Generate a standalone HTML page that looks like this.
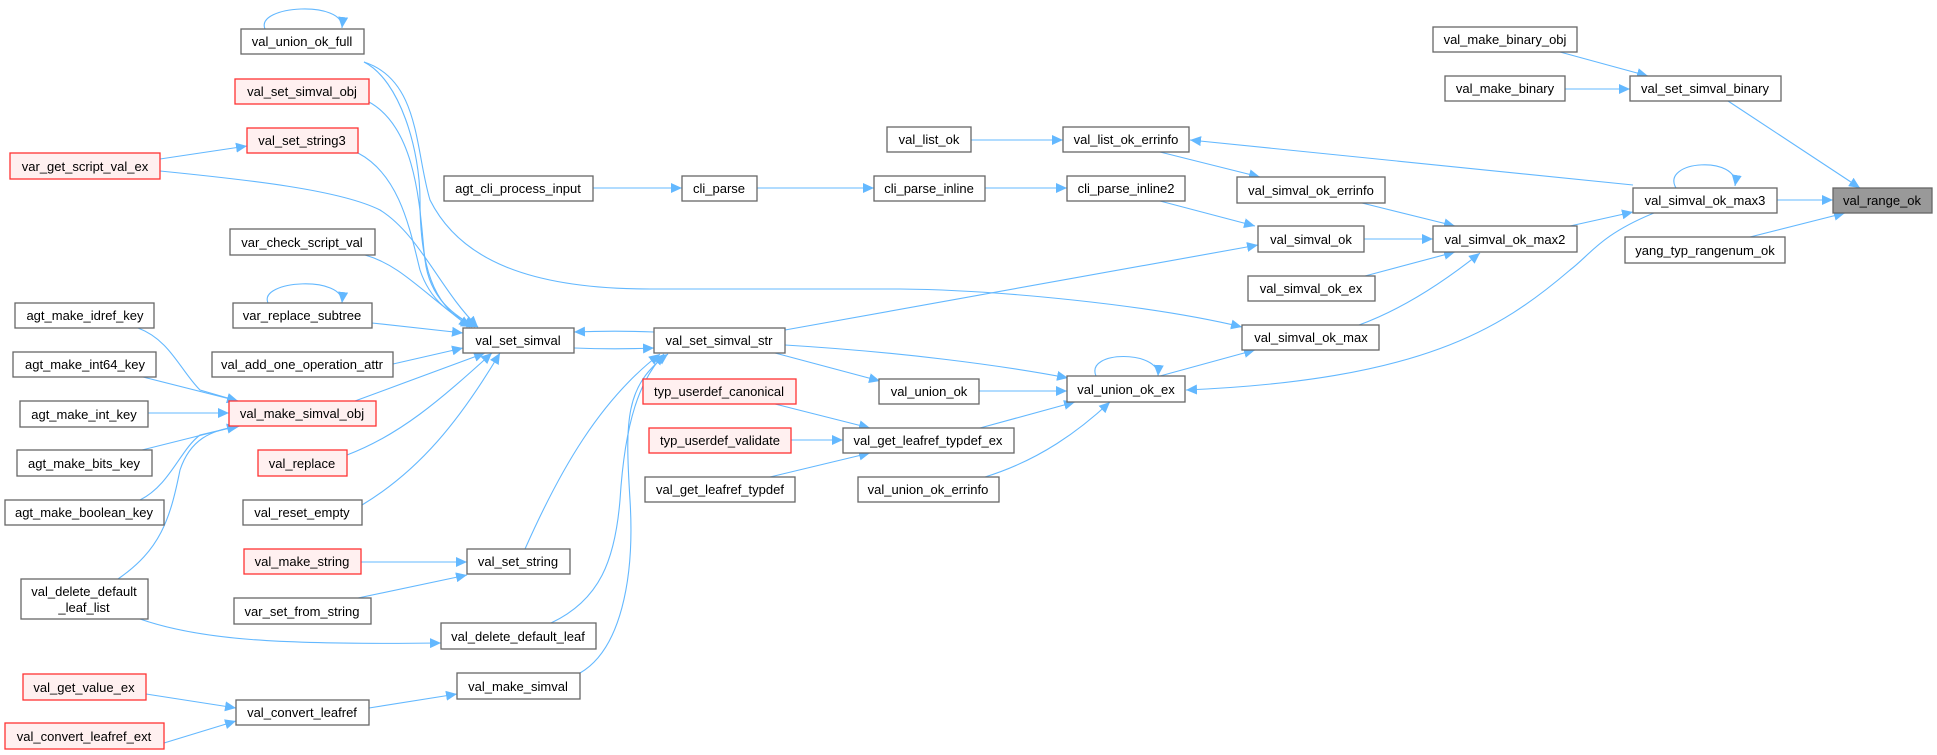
<!DOCTYPE html>
<html><head><meta charset="utf-8"><style>
html,body{margin:0;padding:0;background:#fff;}
svg{display:block;}
text{font-family:"Liberation Sans",Arial,sans-serif;font-size:13px;fill:#000;}
.e{fill:none;stroke:#63b8ff;stroke-width:1.1;}
.n{fill:#fff;stroke:#666;stroke-width:1.3;}
.r{fill:#fff0f0;stroke:#ff3333;stroke-width:1.3;}
</style></head><body>
<svg width="1937" height="755" viewBox="0 0 1937 755" xmlns="http://www.w3.org/2000/svg">
<defs><marker id="a" markerUnits="userSpaceOnUse" markerWidth="12" markerHeight="10" refX="11" refY="5" orient="auto"><path d="M0,0 L11,5 L0,10 z" fill="#63b8ff"/></marker></defs>
<g marker-end="url(#a)">
<path class="e" d="M1560,52 L1648,76"/>
<path class="e" d="M1565,89 L1630,89"/>
<path class="e" d="M1728,101 L1860,188"/>
<path class="e" d="M1777,200 L1833,200"/>
<path class="e" d="M1750,237 L1845,213"/>
<path class="e" d="M1676,188 C1660,160 1740,155 1735,186"/>
<path class="e" d="M1633,185 L1190,140"/>
<path class="e" d="M1654,213 C1600,235 1590,255 1570,270 C1500,330 1420,380 1186,390"/>
<path class="e" d="M1570,226 L1633,212"/>
<path class="e" d="M1160,152 L1260,177"/>
<path class="e" d="M1362,203 L1455,226"/>
<path class="e" d="M1160,201 L1255,226"/>
<path class="e" d="M1364,239 L1433,239"/>
<path class="e" d="M1365,276 L1455,252"/>
<path class="e" d="M1359,325 C1400,310 1440,285 1480,253"/>
<path class="e" d="M785,330 L1258,245"/>
<path class="e" d="M364,62 C420,80 415,150 430,200 C460,260 530,289 650,289 L900,289 C1000,290 1150,305 1242,327"/>
<path class="e" d="M1160,376 L1255,350"/>
<path class="e" d="M1096,376 C1085,350 1160,350 1158,376"/>
<path class="e" d="M971,140 L1063,140"/>
<path class="e" d="M593,188 L682,188"/>
<path class="e" d="M757,188 L874,188"/>
<path class="e" d="M985,188 L1067,188"/>
<path class="e" d="M785,345 C900,352 1000,365 1068,378"/>
<path class="e" d="M775,353 L880,381"/>
<path class="e" d="M979,391 L1067,391"/>
<path class="e" d="M980,428 L1075,402"/>
<path class="e" d="M985,477 C1040,460 1080,430 1110,402"/>
<path class="e" d="M775,404 L870,428"/>
<path class="e" d="M791,440 L843,440"/>
<path class="e" d="M770,477 L870,453"/>
<path class="e" d="M654,332 C630,331 600,331 574,332"/>
<path class="e" d="M574,348 C600,349 630,349 654,348"/>
<path class="e" d="M525,549 C560,470 600,400 660,354"/>
<path class="e" d="M551,623 C600,600 615,560 620,500 C625,420 640,380 664,354"/>
<path class="e" d="M580,673 C620,650 635,580 630,500 C625,420 625,385 668,354"/>
<path class="e" d="M265,29 C255,5 345,0 342,28"/>
<path class="e" d="M364,62 C400,80 420,150 420,200 C420,280 440,310 472,327"/>
<path class="e" d="M369,102 C420,130 420,220 425,260 C430,300 455,315 475,327"/>
<path class="e" d="M358,153 C400,175 410,230 420,270 C430,300 450,315 478,327"/>
<path class="e" d="M160,159 L247,146"/>
<path class="e" d="M160,171 C250,180 340,190 380,210 C420,235 440,290 478,327"/>
<path class="e" d="M365,255 C400,265 420,290 470,327"/>
<path class="e" d="M372,323 L463,333"/>
<path class="e" d="M268,303 C258,280 345,275 342,303"/>
<path class="e" d="M393,364 L463,348"/>
<path class="e" d="M355,401 L485,353"/>
<path class="e" d="M347,455 C400,435 440,400 492,353"/>
<path class="e" d="M362,505 C420,470 460,420 500,353"/>
<path class="e" d="M138,328 C170,340 180,370 200,390 L238,401"/>
<path class="e" d="M143,377 L238,401"/>
<path class="e" d="M148,413 L229,413"/>
<path class="e" d="M142,450 L238,426"/>
<path class="e" d="M140,500 C170,485 180,450 200,435 L238,426"/>
<path class="e" d="M118,579 C160,550 170,520 180,470 C190,440 210,430 240,426"/>
<path class="e" d="M140,619 C200,640 280,645 441,643"/>
<path class="e" d="M361,562 L467,562"/>
<path class="e" d="M358,598 L467,575"/>
<path class="e" d="M146,694 L236,708"/>
<path class="e" d="M164,743 L236,721"/>
<path class="e" d="M369,708 L457,694"/>
</g>
<g>
<rect class="n" x="1433" y="27" width="144" height="25"/><text x="1505" y="44" text-anchor="middle">val_make_binary_obj</text>
<rect class="n" x="1445" y="76" width="120" height="25"/><text x="1505" y="93" text-anchor="middle">val_make_binary</text>
<rect class="n" x="1630" y="76" width="151" height="25"/><text x="1705" y="93" text-anchor="middle">val_set_simval_binary</text>
<rect class="n" x="1633" y="188" width="144" height="25"/><text x="1705" y="205" text-anchor="middle">val_simval_ok_max3</text>
<rect x="1833" y="188" width="99" height="25" fill="#999" stroke="#666" stroke-width="1.3"/><text x="1882" y="205" text-anchor="middle">val_range_ok</text>
<rect class="n" x="1625" y="237" width="160" height="26"/><text x="1705" y="255" text-anchor="middle">yang_typ_rangenum_ok</text>
<rect class="n" x="1237" y="177" width="148" height="26"/><text x="1311" y="195" text-anchor="middle">val_simval_ok_errinfo</text>
<rect class="n" x="1258" y="226" width="106" height="26"/><text x="1311" y="244" text-anchor="middle">val_simval_ok</text>
<rect class="n" x="1433" y="226" width="144" height="26"/><text x="1505" y="244" text-anchor="middle">val_simval_ok_max2</text>
<rect class="n" x="1248" y="276" width="127" height="25"/><text x="1311" y="293" text-anchor="middle">val_simval_ok_ex</text>
<rect class="n" x="1242" y="325" width="137" height="25"/><text x="1311" y="342" text-anchor="middle">val_simval_ok_max</text>
<rect class="n" x="887" y="127" width="84" height="25"/><text x="929" y="144" text-anchor="middle">val_list_ok</text>
<rect class="n" x="1063" y="127" width="126" height="25"/><text x="1126" y="144" text-anchor="middle">val_list_ok_errinfo</text>
<rect class="n" x="682" y="176" width="75" height="25"/><text x="719" y="193" text-anchor="middle">cli_parse</text>
<rect class="n" x="874" y="176" width="111" height="25"/><text x="929" y="193" text-anchor="middle">cli_parse_inline</text>
<rect class="n" x="1067" y="176" width="118" height="25"/><text x="1126" y="193" text-anchor="middle">cli_parse_inline2</text>
<rect class="n" x="654" y="328" width="131" height="25"/><text x="719" y="345" text-anchor="middle">val_set_simval_str</text>
<rect class="r" x="643" y="379" width="153" height="25"/><text x="719" y="396" text-anchor="middle">typ_userdef_canonical</text>
<rect class="n" x="879" y="379" width="100" height="25"/><text x="929" y="396" text-anchor="middle">val_union_ok</text>
<rect class="n" x="1067" y="376" width="118" height="26"/><text x="1126" y="394" text-anchor="middle">val_union_ok_ex</text>
<rect class="r" x="649" y="428" width="142" height="25"/><text x="720" y="445" text-anchor="middle">typ_userdef_validate</text>
<rect class="n" x="843" y="428" width="171" height="25"/><text x="928" y="445" text-anchor="middle">val_get_leafref_typdef_ex</text>
<rect class="n" x="645" y="477" width="150" height="25"/><text x="720" y="494" text-anchor="middle">val_get_leafref_typdef</text>
<rect class="n" x="858" y="477" width="141" height="25"/><text x="928" y="494" text-anchor="middle">val_union_ok_errinfo</text>
<rect class="n" x="241" y="29" width="123" height="25"/><text x="302" y="46" text-anchor="middle">val_union_ok_full</text>
<rect class="r" x="235" y="79" width="134" height="25"/><text x="302" y="96" text-anchor="middle">val_set_simval_obj</text>
<rect class="r" x="247" y="128" width="111" height="25"/><text x="302" y="145" text-anchor="middle">val_set_string3</text>
<rect class="r" x="10" y="153" width="150" height="26"/><text x="85" y="171" text-anchor="middle">var_get_script_val_ex</text>
<rect class="n" x="444" y="176" width="149" height="25"/><text x="518" y="193" text-anchor="middle">agt_cli_process_input</text>
<rect class="n" x="230" y="229" width="145" height="26"/><text x="302" y="247" text-anchor="middle">var_check_script_val</text>
<rect class="n" x="233" y="303" width="139" height="25"/><text x="302" y="320" text-anchor="middle">var_replace_subtree</text>
<rect class="n" x="15" y="303" width="139" height="25"/><text x="85" y="320" text-anchor="middle">agt_make_idref_key</text>
<rect class="n" x="463" y="328" width="111" height="25"/><text x="518" y="345" text-anchor="middle">val_set_simval</text>
<rect class="n" x="13" y="352" width="143" height="25"/><text x="85" y="369" text-anchor="middle">agt_make_int64_key</text>
<rect class="n" x="212" y="352" width="181" height="25"/><text x="302" y="369" text-anchor="middle">val_add_one_operation_attr</text>
<rect class="r" x="229" y="401" width="147" height="25"/><text x="302" y="418" text-anchor="middle">val_make_simval_obj</text>
<rect class="n" x="20" y="401" width="128" height="26"/><text x="84" y="419" text-anchor="middle">agt_make_int_key</text>
<rect class="n" x="17" y="450" width="135" height="26"/><text x="84" y="468" text-anchor="middle">agt_make_bits_key</text>
<rect class="r" x="258" y="450" width="89" height="26"/><text x="302" y="468" text-anchor="middle">val_replace</text>
<rect class="n" x="5" y="500" width="159" height="25"/><text x="84" y="517" text-anchor="middle">agt_make_boolean_key</text>
<rect class="n" x="243" y="500" width="119" height="25"/><text x="302" y="517" text-anchor="middle">val_reset_empty</text>
<rect class="r" x="244" y="549" width="117" height="25"/><text x="302" y="566" text-anchor="middle">val_make_string</text>
<rect class="n" x="467" y="549" width="103" height="25"/><text x="518" y="566" text-anchor="middle">val_set_string</text>
<rect class="n" x="21" y="579" width="127" height="40"/><text x="84" y="596" text-anchor="middle">val_delete_default</text><text x="84" y="612" text-anchor="middle">_leaf_list</text>
<rect class="n" x="234" y="598" width="137" height="26"/><text x="302" y="616" text-anchor="middle">var_set_from_string</text>
<rect class="n" x="441" y="623" width="155" height="26"/><text x="518" y="641" text-anchor="middle">val_delete_default_leaf</text>
<rect class="r" x="23" y="674" width="123" height="26"/><text x="84" y="692" text-anchor="middle">val_get_value_ex</text>
<rect class="n" x="457" y="673" width="123" height="26"/><text x="518" y="691" text-anchor="middle">val_make_simval</text>
<rect class="n" x="236" y="700" width="133" height="25"/><text x="302" y="717" text-anchor="middle">val_convert_leafref</text>
<rect class="r" x="5" y="723" width="159" height="26"/><text x="84" y="741" text-anchor="middle">val_convert_leafref_ext</text>
</g>
</svg>
</body></html>
